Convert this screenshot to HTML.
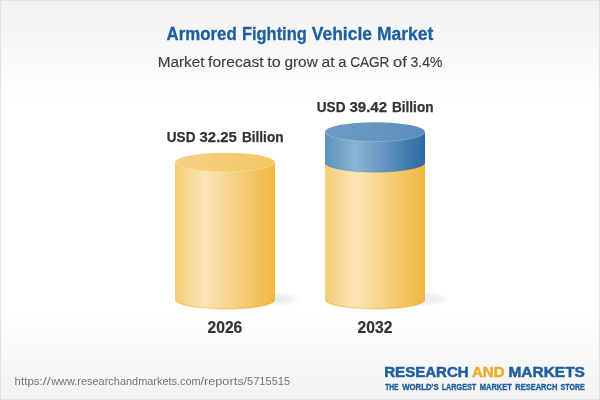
<!DOCTYPE html>
<html>
<head>
<meta charset="utf-8">
<title>Armored Fighting Vehicle Market</title>
<style>
  html, body { margin: 0; padding: 0; background: #fff; }
  body { width: 600px; height: 400px; overflow: hidden; }
  svg { display: block; }
  text { font-family: "Liberation Sans", sans-serif; }
</style>
</head>
<body>
<svg width="600" height="400" viewBox="0 0 600 400">
  <defs>
    <linearGradient id="bg" x1="0" y1="0" x2="0" y2="1">
      <stop offset="0" stop-color="#f2f2f2"/>
      <stop offset="0.25" stop-color="#ffffff"/>
      <stop offset="0.77" stop-color="#ffffff"/>
      <stop offset="1" stop-color="#f3f3f3"/>
    </linearGradient>
    <linearGradient id="ySide" x1="0" y1="0" x2="1" y2="0">
      <stop offset="0" stop-color="#f5cc76"/>
      <stop offset="0.30" stop-color="#fbe5b5"/>
      <stop offset="1" stop-color="#f0b740"/>
    </linearGradient>
    <linearGradient id="yTop" x1="0" y1="0" x2="1" y2="0">
      <stop offset="0" stop-color="#f5d182"/>
      <stop offset="1" stop-color="#f3c864"/>
    </linearGradient>
    <linearGradient id="bSide" x1="0" y1="0" x2="1" y2="0">
      <stop offset="0" stop-color="#5a91be"/>
      <stop offset="0.30" stop-color="#8db4d4"/>
      <stop offset="1" stop-color="#2a6aa3"/>
    </linearGradient>
    <linearGradient id="bTop" x1="0" y1="0" x2="1" y2="0">
      <stop offset="0" stop-color="#6d9cc4"/>
      <stop offset="1" stop-color="#5a8fba"/>
    </linearGradient>
    <radialGradient id="shadow" cx="0.5" cy="0.5" r="0.5">
      <stop offset="0" stop-color="#333" stop-opacity="0.12"/>
      <stop offset="0.55" stop-color="#333" stop-opacity="0.07"/>
      <stop offset="1" stop-color="#000" stop-opacity="0"/>
    </radialGradient>
  </defs>

  <rect x="0" y="0" width="600" height="400" fill="url(#bg)"/>
  <rect x="0.5" y="0.5" width="599" height="399" fill="none" stroke="#e3e3e3"/>

  <!-- shadows -->
  <ellipse cx="270" cy="299" rx="30" ry="8" fill="url(#shadow)"/>
  <ellipse cx="420" cy="299" rx="30" ry="8" fill="url(#shadow)"/>

  <!-- cylinder 2026 -->
  <path d="M175 162.3 L175 299.7 A50 9.8 0 0 0 275 299.7 L275 162.3 Z" fill="url(#ySide)"/>
  <path d="M175.6 298.9 A49.4 9.6 0 0 0 274.4 298.9" fill="none" stroke="#e7a32c" stroke-opacity="0.2" stroke-width="1.6"/>
  <ellipse cx="225" cy="162.3" rx="50" ry="9.6" fill="url(#yTop)"/>
  <path d="M175 162.3 A50 9.6 0 0 0 275 162.3" fill="none" stroke="#fff" stroke-opacity="0.28" stroke-width="0.8"/>

  <!-- cylinder 2032 -->
  <path d="M325 162.5 L325 299.7 A50 9.8 0 0 0 425 299.7 L425 162.5 Z" fill="url(#ySide)"/>
  <path d="M325.6 298.9 A49.4 9.6 0 0 0 424.4 298.9" fill="none" stroke="#e7a32c" stroke-opacity="0.2" stroke-width="1.6"/>
  <path d="M325 131.9 L325 162.5 A50 9.7 0 0 0 425 162.5 L425 131.9 Z" fill="url(#bSide)"/>
  <path d="M325 162.5 A50 9.7 0 0 0 425 162.5" fill="none" stroke="#2d6ca6" stroke-opacity="0.35" stroke-width="0.8"/>
  <ellipse cx="375" cy="131.9" rx="50" ry="9.7" fill="url(#bTop)"/>
  <path d="M325 131.9 A50 9.7 0 0 0 425 131.9" fill="none" stroke="#fff" stroke-opacity="0.25" stroke-width="0.8"/>

  <!-- titles -->
  <text y="40" font-size="18" font-weight="bold" fill="#1e5f9f" stroke="#1e5f9f" stroke-width="0.3"><tspan x="166.47" textLength="70.21" lengthAdjust="spacingAndGlyphs">Armored</tspan> <tspan x="241.91" textLength="64.89" lengthAdjust="spacingAndGlyphs">Fighting</tspan> <tspan x="311.83" textLength="60.12" lengthAdjust="spacingAndGlyphs">Vehicle</tspan> <tspan x="376.90" textLength="56.46" lengthAdjust="spacingAndGlyphs">Market</tspan></text>
  <text y="66.8" font-size="15.3" font-weight="normal" fill="#3d3d3d" stroke="#3d3d3d" stroke-width="0.15"><tspan x="157.65" textLength="46.78" lengthAdjust="spacingAndGlyphs">Market</tspan> <tspan x="208.14" textLength="55.44" lengthAdjust="spacingAndGlyphs">forecast</tspan> <tspan x="267.29" textLength="13.45" lengthAdjust="spacingAndGlyphs">to</tspan> <tspan x="284.46" textLength="33.32" lengthAdjust="spacingAndGlyphs">grow</tspan> <tspan x="321.49" textLength="13.06" lengthAdjust="spacingAndGlyphs">at</tspan> <tspan x="338.26" textLength="8.16" lengthAdjust="spacingAndGlyphs">a</tspan> <tspan x="350.13" textLength="39.24" lengthAdjust="spacingAndGlyphs">CAGR</tspan> <tspan x="393.08" textLength="13.76" lengthAdjust="spacingAndGlyphs">of</tspan> <tspan x="410.55" textLength="31.78" lengthAdjust="spacingAndGlyphs">3.4%</tspan></text>
  <text y="142.0" font-size="15" font-weight="bold" fill="#333333" stroke="#333333" stroke-width="0.25"><tspan x="166.82" textLength="28.63" lengthAdjust="spacingAndGlyphs">USD</tspan> <tspan x="199.53" textLength="37.40" lengthAdjust="spacingAndGlyphs">32.25</tspan> <tspan x="241.93" textLength="41.62" lengthAdjust="spacingAndGlyphs">Billion</tspan></text>
  <text y="111.6" font-size="15" font-weight="bold" fill="#333333" stroke="#333333" stroke-width="0.25"><tspan x="316.82" textLength="28.63" lengthAdjust="spacingAndGlyphs">USD</tspan> <tspan x="349.53" textLength="37.54" lengthAdjust="spacingAndGlyphs">39.42</tspan> <tspan x="391.93" textLength="41.62" lengthAdjust="spacingAndGlyphs">Billion</tspan></text>
  <text y="332.7" font-size="15.8" font-weight="bold" fill="#333333" stroke="#333333" stroke-width="0.2"><tspan x="207.59" textLength="34.74" lengthAdjust="spacingAndGlyphs">2026</tspan></text>
  <text y="332.7" font-size="15.8" font-weight="bold" fill="#333333" stroke="#333333" stroke-width="0.2"><tspan x="357.59" textLength="34.79" lengthAdjust="spacingAndGlyphs">2032</tspan></text>
  <text y="384.8" font-size="11.2" font-weight="normal" fill="#747474"><tspan x="14.61" textLength="28.15" lengthAdjust="spacingAndGlyphs">https:</tspan><tspan x="42.85" textLength="8.01" lengthAdjust="spacingAndGlyphs">//</tspan><tspan x="51.22" textLength="149.50" lengthAdjust="spacingAndGlyphs">www.researchandmarkets.com</tspan><tspan x="200.50" textLength="46.57" lengthAdjust="spacingAndGlyphs">/reports/</tspan><tspan x="246.99" textLength="43.21" lengthAdjust="spacingAndGlyphs">5715515</tspan></text>
  <text y="377.0" font-size="14.8" font-weight="bold" fill="#1f5f9e" stroke="#1f5f9e" stroke-width="0.5"><tspan x="384.25" textLength="84.42" lengthAdjust="spacingAndGlyphs">RESEARCH</tspan> <tspan x="471.98" textLength="32.63" lengthAdjust="spacingAndGlyphs" fill="#f0ab2c" stroke="#f0ab2c">AND</tspan> <tspan x="508.41" textLength="76.55" lengthAdjust="spacingAndGlyphs">MARKETS</tspan></text>
  <text y="389.6" font-size="8.3" font-weight="bold" fill="#1f5f9e" stroke="#1f5f9e" stroke-width="0.35"><tspan x="385.15" textLength="13.29" lengthAdjust="spacingAndGlyphs">THE</tspan> <tspan x="402.16" textLength="36.47" lengthAdjust="spacingAndGlyphs">WORLD'S</tspan> <tspan x="441.69" textLength="34.56" lengthAdjust="spacingAndGlyphs">LARGEST</tspan> <tspan x="479.68" textLength="32.24" lengthAdjust="spacingAndGlyphs">MARKET</tspan> <tspan x="515.24" textLength="42.11" lengthAdjust="spacingAndGlyphs">RESEARCH</tspan> <tspan x="560.49" textLength="24.27" lengthAdjust="spacingAndGlyphs">STORE</tspan></text>
</svg>
</body>
</html>
